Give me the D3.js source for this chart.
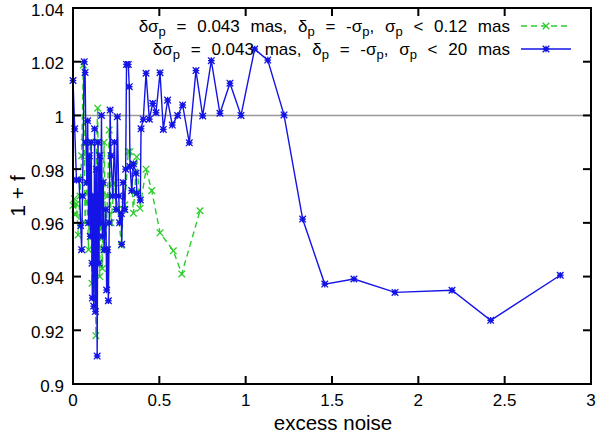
<!DOCTYPE html>
<html>
<head>
<meta charset="utf-8">
<script src="https://cdn.jsdelivr.net/npm/d3@7"></script>
<style>
  html, body { margin: 0; padding: 0; background: #fff; }
  svg { display: block; }
  text { font-family: "Liberation Sans", Arial, Helvetica, sans-serif; }
</style>
</head>
<body>
<svg id="chart" width="598" height="435"></svg>
<script>
// ---- data ----
const xTicks = [0, 0.5, 1, 1.5, 2, 2.5, 3];
const xTickLabels = ["0", "0.5", "1", "1.5", "2", "2.5", "3"];
const yTicks = [0.9, 0.92, 0.94, 0.96, 0.98, 1, 1.02, 1.04];
const yTickLabels = ["0.9", "0.92", "0.94", "0.96", "0.98", "1", "1.02", "1.04"];

// series 1: sigma_p < 0.12 mas (green, dashed)
const greenX = [0.0, 0.008, 0.012, 0.02, 0.03, 0.04, 0.05, 0.06, 0.065, 0.07, 0.08, 0.09, 0.1, 0.11, 0.115, 0.125, 0.133, 0.137, 0.143, 0.148, 0.155, 0.16, 0.17, 0.18, 0.19, 0.2, 0.21, 0.22, 0.24, 0.26, 0.28, 0.29, 0.3, 0.32, 0.33, 0.35, 0.369, 0.388, 0.423, 0.456, 0.504, 0.581, 0.63, 0.7355];
const greenY = [0.9665, 0.969, 0.963, 0.967, 0.9555, 0.97, 0.985, 1.0188, 0.99, 0.96, 0.975, 0.95, 0.99, 0.9375, 0.965, 0.945, 0.918, 0.99, 1.0027, 0.96, 0.94, 0.975, 0.943, 0.99, 0.95, 0.97, 0.9946, 0.96, 0.975, 0.965, 0.9517, 0.965, 0.9667, 0.9865, 0.9865, 0.9636, 0.9846, 0.9654, 0.98, 0.972, 0.9563, 0.9496, 0.941, 0.9645];

// series 2: sigma_p < 20 mas (blue, solid)
const blueX = [0.0, 0.01, 0.02, 0.035, 0.045, 0.05, 0.055, 0.065, 0.07, 0.075, 0.08, 0.085, 0.09, 0.095, 0.1, 0.105, 0.11, 0.112, 0.115, 0.12, 0.125, 0.13, 0.135, 0.14, 0.145, 0.15, 0.155, 0.16, 0.165, 0.17, 0.175, 0.18, 0.19, 0.195, 0.2, 0.205, 0.21, 0.215, 0.22, 0.23, 0.24, 0.25, 0.257, 0.265, 0.27, 0.28, 0.282, 0.29, 0.3, 0.305, 0.31, 0.32, 0.326, 0.33, 0.34, 0.35, 0.365, 0.37, 0.39, 0.394, 0.407, 0.423, 0.442, 0.4616, 0.4807, 0.504, 0.523, 0.548, 0.575, 0.606, 0.635, 0.6735, 0.712, 0.751, 0.801, 0.851, 0.909, 0.973, 1.052, 1.128, 1.222, 1.33, 1.458, 1.627, 1.865, 2.195, 2.419, 2.822];
const blueY = [1.013, 0.995, 0.976, 0.976, 0.959, 0.95, 0.97, 1.02, 1.016, 0.99, 0.975, 0.998, 0.96, 0.985, 0.955, 0.99, 0.945, 0.932, 0.97, 0.929, 0.995, 0.927, 0.98, 0.9104, 0.99, 0.945, 0.985, 0.96, 1.0, 0.955, 0.975, 0.95, 0.965, 0.935, 0.95, 0.931, 0.96, 1.002, 0.985, 0.97, 0.99, 0.965, 0.9995, 0.97, 0.96, 0.9635, 0.952, 0.975, 0.965, 0.98, 1.019, 1.019, 1.0107, 0.981, 0.972, 0.982, 0.9785, 0.971, 0.9685, 0.995, 0.9986, 1.0157, 0.9986, 1.0045, 1.001, 1.0159, 0.9948, 1.0057, 0.9964, 1.0, 1.0039, 0.9898, 1.0167, 0.9998, 1.0204, 1.0008, 1.012, 1.0, 1.0247, 1.0206, 1.0002, 0.9614, 0.9372, 0.9391, 0.9341, 0.9349, 0.9237, 0.9405];

const refLineY = 1;

// ---- layout ----
const svg = d3.select("#chart");
const L = 73, R = 591, T = 8, B = 384;
const x = d3.scaleLinear().domain([0, 3]).range([L, R]);
const y = d3.scaleLinear().domain([0.9, 1.04]).range([B, T]);

const green = "#2ccc2c";
const blue = "#1414e6";

// reference line at 1
svg.append("line")
  .attr("x1", x(0)).attr("x2", x(3))
  .attr("y1", y(refLineY)).attr("y2", y(refLineY))
  .attr("stroke", "#999").attr("stroke-width", 1.5);

function drawSeries(xs, ys, color, dash, marker) {
  const pts = xs.map((v, i) => [v, ys[i]]);
  const line = d3.line().x(d => x(d[0])).y(d => y(d[1]));
  svg.append("path").datum(pts)
    .attr("d", line)
    .attr("fill", "none")
    .attr("stroke", color)
    .attr("stroke-width", 1.4)
    .attr("stroke-dasharray", dash);
  const g = svg.append("g");
  pts.forEach(d => drawMarker(g, x(d[0]), y(d[1]), color, marker));
}

function drawMarker(g, cx, cy, color, marker) {
  const s = 3.3;
  g.append("line").attr("x1", cx - s).attr("y1", cy - s).attr("x2", cx + s).attr("y2", cy + s)
    .attr("stroke", color).attr("stroke-width", 1.3);
  g.append("line").attr("x1", cx - s).attr("y1", cy + s).attr("x2", cx + s).attr("y2", cy - s)
    .attr("stroke", color).attr("stroke-width", 1.3);
  if (marker === "star") {
    g.append("line").attr("x1", cx - s).attr("y1", cy).attr("x2", cx + s).attr("y2", cy)
      .attr("stroke", color).attr("stroke-width", 1.3);
    g.append("line").attr("x1", cx).attr("y1", cy - s).attr("x2", cx).attr("y2", cy + s)
      .attr("stroke", color).attr("stroke-width", 1.3);
    g.append("rect").attr("x", cx - 2).attr("y", cy - 2).attr("width", 4).attr("height", 4)
      .attr("fill", color);
  }
}

drawSeries(greenX, greenY, green, "6,4", "x");
drawSeries(blueX, blueY, blue, null, "star");

// ---- axes (frame with inward ticks on all sides) ----
const tickLen = 8;
const axisG = svg.append("g");
axisG.append("rect")
  .attr("x", L).attr("y", T).attr("width", R - L).attr("height", B - T)
  .attr("fill", "none").attr("stroke", "#000").attr("stroke-width", 2);

xTicks.forEach((t, i) => {
  const px = x(t);
  axisG.append("line").attr("x1", px).attr("x2", px).attr("y1", B).attr("y2", B - tickLen)
    .attr("stroke", "#000").attr("stroke-width", 2);
  axisG.append("line").attr("x1", px).attr("x2", px).attr("y1", T).attr("y2", T + tickLen)
    .attr("stroke", "#000").attr("stroke-width", 2);
  axisG.append("text").attr("x", px).attr("y", 406)
    .attr("text-anchor", "middle").attr("font-size", 17).text(xTickLabels[i]);
});
yTicks.forEach((t, i) => {
  const py = y(t);
  axisG.append("line").attr("x1", L).attr("x2", L + tickLen).attr("y1", py).attr("y2", py)
    .attr("stroke", "#000").attr("stroke-width", 2);
  axisG.append("line").attr("x1", R).attr("x2", R - tickLen).attr("y1", py).attr("y2", py)
    .attr("stroke", "#000").attr("stroke-width", 2);
  axisG.append("text").attr("x", 64).attr("y", py + 7.5)
    .attr("text-anchor", "end").attr("font-size", 17).text(yTickLabels[i]);
});

// axis titles
svg.append("text").attr("x", 333).attr("y", 430)
  .attr("text-anchor", "middle").attr("font-size", 20.5).text("excess noise");
svg.append("text")
  .attr("transform", `translate(25,${(T + B) / 2}) rotate(-90)`)
  .attr("text-anchor", "middle").attr("font-size", 21).text("1 + f");

// ---- legend ----
const legendRows = [
  { limit: "0.12", color: green, dash: "6,4", marker: "x", yb: 32 },
  { limit: "20", color: blue, dash: null, marker: "star", yb: 55 }
];
legendRows.forEach(r => {
  const t = svg.append("text").attr("x", 510).attr("y", r.yb)
    .attr("text-anchor", "end").attr("font-size", 17)
    .attr("word-spacing", 6);
  const parts = [
    ["δσ", 0], ["p", 1], [" = 0.043 mas, δ", 0], ["p", 1], [" = -σ", 0], ["p", 1],
    [", σ", 0], ["p", 1], [" < " + r.limit + " mas", 0]
  ];
  let cur = 0;
  parts.forEach(([s, sub]) => {
    const dy = (sub ? 4 : 0) - cur;
    cur = sub ? 4 : 0;
    t.append("tspan").attr("dy", dy).attr("font-size", sub ? 13 : 17).text(s);
  });
  const ly = r.yb - 6;
  svg.append("line").attr("x1", 521).attr("x2", 571).attr("y1", ly).attr("y2", ly)
    .attr("stroke", r.color).attr("stroke-width", 1.4).attr("stroke-dasharray", r.dash);
  drawMarker(svg.append("g"), 546, ly, r.color, r.marker);
});
</script>
</body>
</html>
